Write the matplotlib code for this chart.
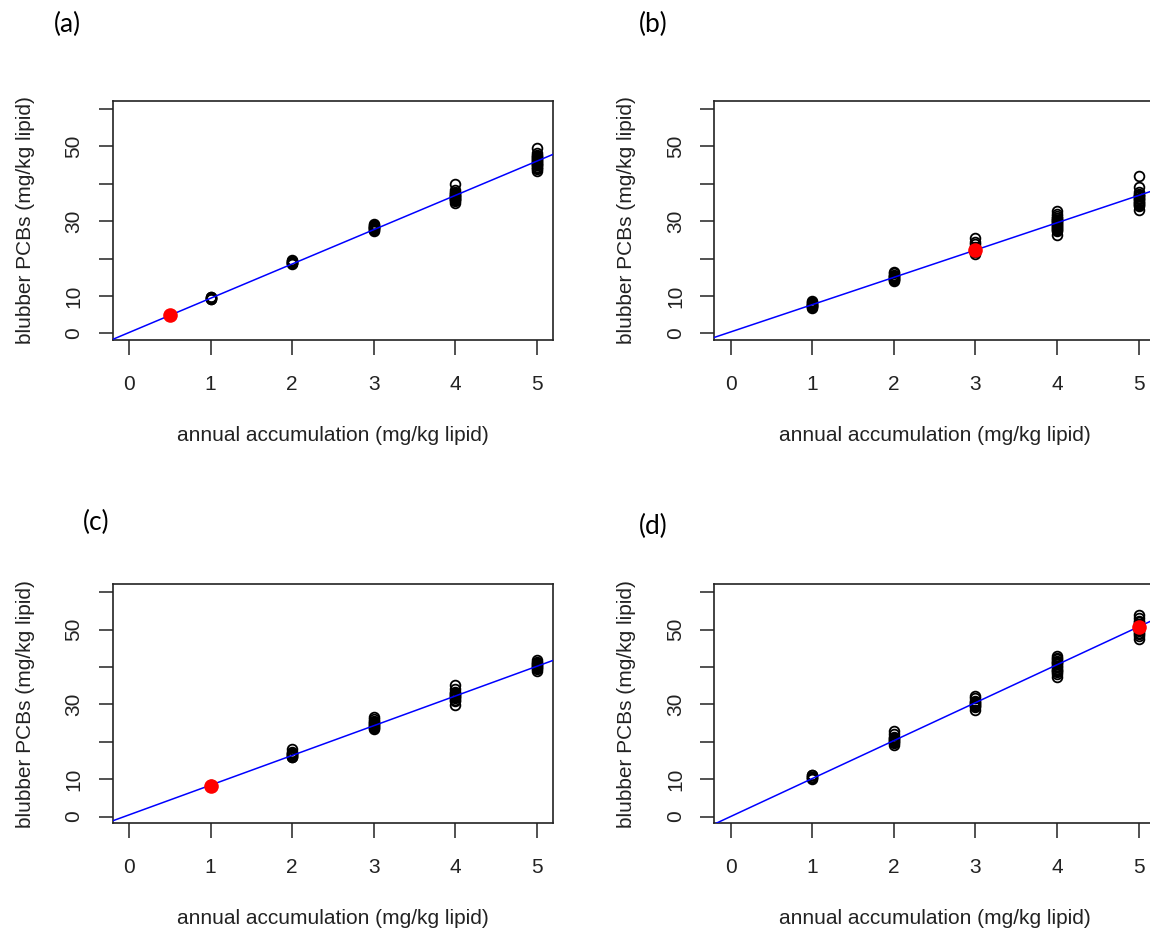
import matplotlib
matplotlib.use('Agg')
import matplotlib.pyplot as plt

plt.rcParams['font.family'] = ['Liberation Sans', 'DejaVu Sans']

# x positions of the simulated clusters
levels = [1, 2, 3, 4, 5]

# simulated blubber PCBs at each level (one list per level)
sims_a = [
    [9.1, 9.3, 9.5, 9.6, 9.8, 9.4],
    [18.5, 18.7, 18.8, 19.0, 19.2, 19.4, 19.6, 18.9],
    [27.4, 27.6, 27.8, 28.1, 28.3, 28.4, 28.7, 29.0, 29.3, 28.2],
    [34.8, 35.3, 35.6, 35.8, 36.0, 36.2, 36.4, 36.6, 36.8, 37.0, 37.2,
     37.4, 37.9, 38.3, 39.8],
    [43.4, 44.0, 44.3, 44.6, 44.9, 45.1, 45.3, 45.6, 45.9, 46.1, 46.4,
     46.6, 46.9, 47.1, 47.4, 47.6, 48.3, 49.5],
]
sims_b = [
    [6.7, 7.0, 7.2, 7.3, 7.5, 7.6, 7.9, 8.2, 8.4, 8.7],
    [14.0, 14.2, 14.4, 14.6, 14.8, 15.0, 15.2, 15.4, 15.6, 16.0, 16.4],
    [21.3, 21.8, 22.5, 23.2, 23.8, 24.3, 25.5],
    [26.2, 27.4, 27.7, 27.9, 28.2, 28.4, 28.7, 28.9, 29.2, 29.4, 29.7,
     29.9, 30.2, 30.4, 30.7, 30.9, 31.4, 32.0, 32.6],
    [32.9, 34.0, 34.3, 34.6, 34.9, 35.2, 35.5, 35.8, 36.0, 36.3, 36.6,
     36.8, 37.1, 37.3, 37.8, 39.2, 42.0],
]
sims_c = [
    [8.2, 8.4],
    [15.8, 16.0, 16.2, 16.4, 16.6, 16.8, 17.0, 17.4, 18.0],
    [23.5, 23.8, 24.0, 24.3, 24.5, 24.8, 25.0, 25.3, 25.5, 26.0, 26.6],
    [29.8, 31.0, 31.3, 31.6, 31.9, 32.2, 32.5, 32.8, 33.1, 33.4, 34.0, 35.2],
    [39.0, 39.5, 39.8, 40.0, 40.3, 40.5, 40.8, 41.0, 41.4, 41.8],
]
sims_d = [
    [10.1, 10.4, 10.6, 10.7, 11.0, 11.2],
    [19.1, 19.6, 19.9, 20.2, 20.5, 20.8, 21.1, 21.4, 22.0, 23.0],
    [28.6, 29.2, 29.5, 29.8, 30.1, 30.4, 30.7, 31.0, 31.6, 32.2],
    [37.3, 38.2, 38.6, 38.9, 39.3, 39.6, 40.0, 40.3, 40.7, 41.0, 41.4,
     41.7, 42.1, 42.4, 43.0],
    [47.6, 48.4, 48.8, 49.2, 49.6, 50.0, 50.4, 50.8, 51.2, 51.6, 52.0,
     52.4, 53.2, 53.9],
]

# observed point (red) for each panel
obs_x = [0.5, 3, 1, 5]
obs_y = [5.0, 22.2, 8.3, 50.6]

# fitted line: intercept, slope
fit_intercept = [0.2, 0.35, 0.45, 0.0]
fit_slope = [9.17, 7.3, 7.95, 10.15]

panel_tags = ['(a)', '(b)', '(c)', '(d)']
yticks = [0, 10, 20, 30, 40, 50, 60]
ytick_labels = ['0', '10', '', '30', '', '50', '']
xticks = [0, 1, 2, 3, 4, 5]


def draw_panel(ax, sims, i):
    for x, ys in zip(levels, sims):
        ax.plot([x] * len(ys), ys, 'o', mfc='none', mec='black',
                ms=7, mew=1.3, zorder=2)
    ax.axline((0, fit_intercept[i]), slope=fit_slope[i], color='#0000ff',
              lw=1.1, zorder=3)
    ax.plot(obs_x[i], obs_y[i], 'o', color='red', ms=10.5, mew=0, zorder=4)

    ax.set_xlim(-0.2, 5.2)
    ax.set_ylim(-1.8, 62.2)
    ax.set_xticks(xticks)
    ax.set_xticklabels([str(t) for t in xticks])
    ax.set_yticks(yticks)
    ax.set_yticklabels(ytick_labels, rotation=90, va='center')
    ax.tick_params(axis='x', length=11, width=1.1, pad=14, labelsize=15,
                   color='#222222', labelcolor='#222222')
    ax.tick_params(axis='y', length=10, width=1.1, pad=11, labelsize=15,
                   color='#222222', labelcolor='#222222')
    for s in ax.spines.values():
        s.set_linewidth(1.2)
        s.set_color('#222222')

    ax.set_xlabel('annual accumulation (mg/kg lipid)', fontsize=15,
                  color='#222222')
    ax.xaxis.set_label_coords(0.5, -0.40)
    ax.xaxis.label.set_va('center')
    ax.set_ylabel('blubber PCBs (mg/kg lipid)', fontsize=15, color='#222222')
    ax.yaxis.set_label_coords(-0.199, 0.5)
    ax.yaxis.label.set_va('center')


def main():
    fig = plt.figure(figsize=(11.5, 9.31), dpi=100)
    w, h = 0.3831, 0.257
    boxes = [
        [0.098, 0.6348, w, h],
        [0.6211, 0.6348, w, h],
        [0.098, 0.1157, w, h],
        [0.6211, 0.1157, w, h],
    ]
    all_sims = [sims_a, sims_b, sims_c, sims_d]
    for i in range(4):
        ax = fig.add_axes(boxes[i])
        draw_panel(ax, all_sims[i], i)

    tag_pos = [(67, 24), (653, 24), (96, 522), (653, 526)]
    for tag, (px, py) in zip(panel_tags, tag_pos):
        fig.text(px / 1150, 1 - py / 931, tag, fontsize=19, ha='center',
                 va='center', family=['Lato', 'DejaVu Sans'])

    fig.savefig('out.png', dpi=100)


if __name__ == '__main__':
    main()
